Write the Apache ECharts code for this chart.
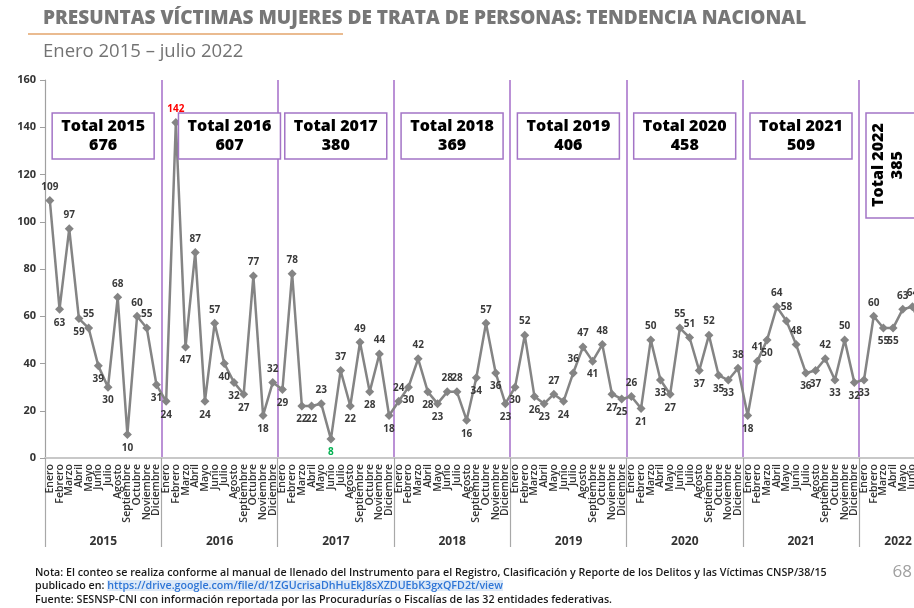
<!DOCTYPE html>
<html>
<head>
<meta charset="utf-8">
<script src="https://cdn.jsdelivr.net/npm/echarts@6/dist/echarts.min.js"></script>
<style>
  html, body { margin: 0; padding: 0; background: #fff; }
  #chart { width: 914px; height: 608px; }
</style>
</head>
<body>
<div id="chart"></div>
<script>
// datos
const years = ['2015', '2016', '2017', '2018', '2019', '2020', '2021', '2022'];
const months = ['Enero', 'Febrero', 'Marzo', 'Abril', 'Mayo', 'Junio', 'Julio', 'Agosto',
  'Septiembre', 'Octubre', 'Noviembre', 'Diciembre'];
const totals = [676, 607, 380, 369, 406, 458, 509, 385];

const v2015 = [109, 63, 97, 59, 55, 39, 30, 68, 10, 60, 55, 31];
const v2016 = [24, 142, 47, 87, 24, 57, 40, 32, 27, 77, 18, 32];
const v2017 = [29, 78, 22, 22, 23, 8, 37, 22, 49, 28, 44, 18];
const v2018 = [24, 30, 42, 28, 23, 28, 28, 16, 34, 57, 36, 23];
const v2019 = [30, 52, 26, 23, 27, 24, 36, 47, 41, 48, 27, 25];
const v2020 = [26, 21, 50, 33, 27, 55, 51, 37, 52, 35, 33, 38];
const v2021 = [18, 41, 50, 64, 58, 48, 36, 37, 42, 33, 50, 32];
const v2022 = [33, 60, 55, 55, 63, 64, 55];
const yearValues = [v2015, v2016, v2017, v2018, v2019, v2020, v2021, v2022];

const FONT = '"Open Sans", "Noto Sans", sans-serif';

const categories = [];
const values = [];
const yearStart = [];
yearValues.forEach((arr, y) => {
  yearStart.push(values.length);
  arr.forEach((v, m) => {
    categories.push(years[y] + '|' + months[m]);
    values.push(v);
  });
});

const maxV = Math.max(...values);
const minV = Math.min(...values);

// posicion de etiqueta segun los vecinos
function labelPos(i) {
  const v = values[i];
  const p = i > 0 ? values[i - 1] : v;
  const n = i < values.length - 1 ? values[i + 1] : v;
  return v >= (p + n) / 2 ? 'top' : 'bottom';
}

const seriesData = values.map((v, i) => {
  let color = '#3a3a3a';
  if (v === maxV) color = '#ff0000';
  if (v === minV) color = '#00b050';
  return { value: v, label: { position: labelPos(i), color: color } };
});

// indice central de cada año para la etiqueta del año
const yearLabelIdx = {};
yearValues.forEach((arr, y) => {
  yearLabelIdx[yearStart[y] + Math.floor((arr.length - 1) / 2)] = years[y];
});

const chart = echarts.init(document.getElementById('chart'));

const option = {
  animation: false,
  textStyle: { fontFamily: FONT },
  title: [{
    text: 'PRESUNTAS VÍCTIMAS MUJERES DE TRATA DE PERSONAS: TENDENCIA NACIONAL',
    left: 43, top: 9, padding: 0,
    textStyle: { fontFamily: FONT, fontSize: 19, fontWeight: 800, color: '#777' }
  }, {
    text: 'Enero 2015 – julio 2022',
    left: 43, top: 42, padding: 0,
    textStyle: { fontFamily: FONT, fontSize: 18.5, fontWeight: 500, color: '#737373' }
  }],
  grid: { left: 45, top: 80, width: 882, height: 378, outerBoundsMode: 'none' },
  xAxis: [{
    type: 'category',
    data: categories,
    boundaryGap: true,
    axisLine: { lineStyle: { color: '#c8c8c8', width: 2 } },
    axisTick: {
      show: true, length: 89, interval: (i) => i % 12 === 0,
      lineStyle: { color: '#a8a8a8', width: 1.2 }
    },
    splitLine: {
      show: true, interval: (i) => i % 12 === 0 && i > 0,
      lineStyle: { color: '#a56cc8', width: 1.5 }
    },
    axisLabel: {
      interval: 0, rotate: 90, margin: 6,
      fontFamily: FONT, fontSize: 10.5, fontWeight: 600, color: '#333',
      formatter: (v) => v.split('|')[1]
    }
  }, {
    type: 'category',
    data: categories,
    position: 'bottom',
    boundaryGap: true,
    axisLine: { show: false },
    axisTick: { show: false },
    axisLabel: {
      interval: (i) => yearLabelIdx[i] !== undefined,
      margin: 78, padding: [0, 0, 0, 10],
      fontFamily: FONT, fontSize: 12, fontWeight: 700, color: '#333',
      formatter: (v, i) => yearLabelIdx[i] || ''
    }
  }],
  yAxis: {
    type: 'value', min: 0, max: 160, interval: 20,
    axisLine: { show: true, lineStyle: { color: '#a0a0a0', width: 1.2 } },
    axisTick: { show: true, length: 5, lineStyle: { color: '#a0a0a0' } },
    splitLine: { show: false },
    axisLabel: { margin: 9, fontFamily: FONT, fontSize: 11, fontWeight: 700, color: '#333' }
  },
  series: [{
    type: 'line',
    data: seriesData,
    symbol: 'diamond',
    symbolSize: 9,
    lineStyle: { color: '#848484', width: 2.5 },
    itemStyle: { color: '#848484' },
    label: {
      show: true, distance: 4,
      fontFamily: FONT, fontSize: 10, fontWeight: 700
    }
  }]
};

chart.setOption(option);

// cuadros de totales por año
const graphics = [];
yearValues.forEach((arr, y) => {
  const first = chart.convertToPixel({ xAxisIndex: 0 }, yearStart[y]);
  const last = chart.convertToPixel({ xAxisIndex: 0 }, yearStart[y] + 11);
  let cx = (first + last) / 2;
  if (y === 1) cx += 10;
  const top = chart.convertToPixel({ yAxisIndex: 0 }, 146);
  if (y < 7) {
    graphics.push({
      type: 'rect', shape: { x: cx - 51, y: top, width: 102, height: 46 },
      style: { fill: '#fff', stroke: '#a374c6', lineWidth: 1.5 }, z: 10
    });
    graphics.push({
      type: 'text', x: cx, y: top + 23, z: 11,
      style: {
        text: 'Total ' + years[y] + '\n' + totals[y], align: 'center', verticalAlign: 'middle',
        font: '800 16px ' + FONT, lineHeight: 19, fill: '#000'
      }
    });
  } else {
    const bx = first + 2;
    graphics.push({
      type: 'rect', shape: { x: bx, y: top, width: 60, height: 105 },
      style: { fill: '#fff', stroke: '#a374c6', lineWidth: 1.5 }, z: 10
    });
    graphics.push({
      type: 'text', x: bx + 22, y: top + 52, rotation: Math.PI / 2, z: 11,
      style: {
        text: 'Total ' + years[y] + '\n' + totals[y], align: 'center', verticalAlign: 'middle',
        font: '800 16px ' + FONT, lineHeight: 19, fill: '#000'
      }
    });
  }
});

// subrayado del titulo y notas
graphics.push({
  type: 'line', shape: { x1: 28, y1: 34, x2: 343, y2: 34 },
  style: { stroke: '#e3a46b', lineWidth: 1.5 }
});
const NOTE_FONT = '600 10.7px ' + FONT;
graphics.push({
  type: 'text', x: 35, y: 567,
  style: {
    text: 'Nota: El conteo se realiza conforme al manual de llenado del Instrumento para el Registro, Clasificación y Reporte de los Delitos y las Víctimas CNSP/38/15',
    font: NOTE_FONT, fill: '#1a1a1a'
  }
});
graphics.push({
  type: 'text', x: 35, y: 580,
  style: {
    text: '{a|publicado en: }{b|https://drive.google.com/file/d/1ZGUcrisaDhHuEkJ8sXZDUEbK3gxQFD2t/view}',
    font: NOTE_FONT,
    rich: {
      a: { font: NOTE_FONT, fill: '#1a1a1a' },
      b: { font: NOTE_FONT, fill: '#2e75d6', backgroundColor: '#dde9f7' }
    }
  }
});
graphics.push({
  type: 'text', x: 35, y: 594,
  style: {
    text: 'Fuente: SESNSP-CNI con información reportada por las Procuradurías o Fiscalías de las 32 entidades federativas.',
    font: NOTE_FONT, fill: '#1a1a1a'
  }
});
graphics.push({
  type: 'text', x: 912, y: 564,
  style: { text: '68', align: 'right', font: '17px ' + FONT, fill: '#a0a0a0' }
});

chart.setOption({ graphic: graphics });
</script>
</body>
</html>
